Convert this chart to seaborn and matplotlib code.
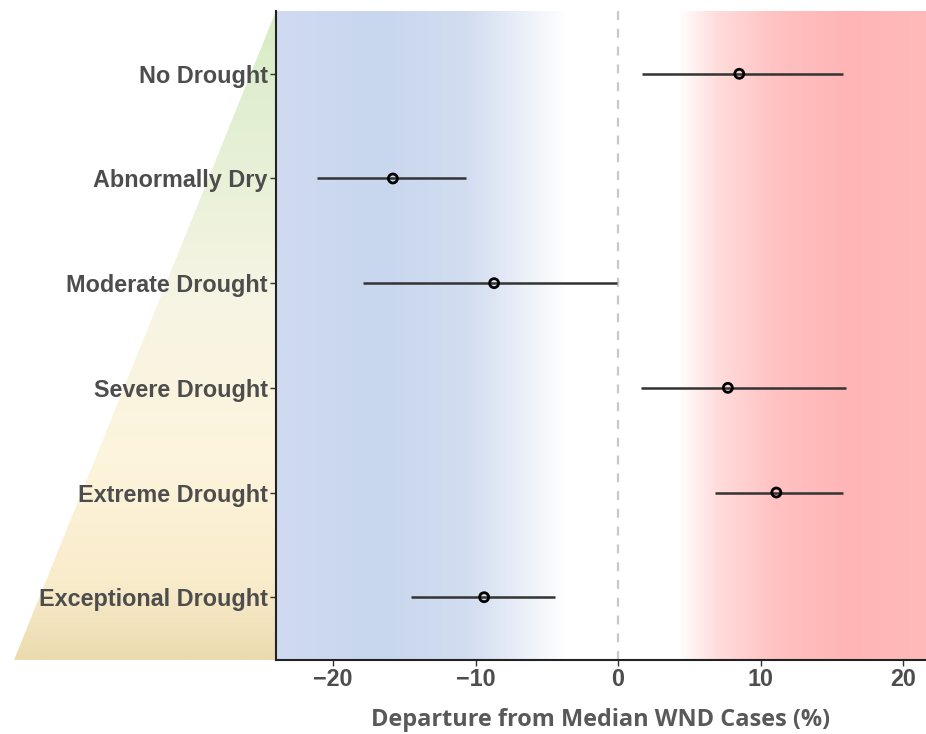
import os
import numpy as np
import pandas as pd
import matplotlib
matplotlib.use("Agg")
import matplotlib.pyplot as plt
import matplotlib.font_manager as fm
import seaborn as sns
from matplotlib.colors import to_rgb
from matplotlib.patches import Polygon

categories = ["No Drought", "Abnormally Dry", "Moderate Drought",
              "Severe Drought", "Extreme Drought", "Exceptional Drought"]
estimate = [8.5, -15.8, -8.7, 7.7, 11.1, -9.4]
ci_low = [1.7, -21.1, -17.9, 1.6, 6.8, -14.5]
ci_high = [15.8, -10.7, -0.1, 16.0, 15.8, -4.4]
xticks = [-20, -10, 0, 10, 20]

df = pd.DataFrame({"category": categories, "estimate": estimate,
                   "low": ci_low, "high": ci_high})
df["pos"] = np.arange(len(categories))

sns.set_theme(style="white")
plt.rcParams["font.family"] = ["Liberation Sans", "DejaVu Sans"]

paths = [p for p in fm.findSystemFonts() if os.path.basename(p) == "LiberationSans-Bold.ttf"]
if paths:
    tick_fp = fm.FontProperties(fname=paths[0], size=16.8)
else:
    tick_fp = fm.FontProperties(family="DejaVu Sans", weight="bold", size=15.5)

W, H = 926, 734
fig = plt.figure(figsize=(W / 100, H / 100), dpi=100)

# background triangle on figure
bg = fig.add_axes([0, 0, 1, 1], zorder=-1)
bg.set_xlim(0, W)
bg.set_ylim(H, 0)
bg.axis("off")
tri_top, tri_bot, tri_left, tri_right = 11, 660, 14, 276
ys = np.linspace(0, 1, 300)
stops_y = [0.0, 0.12, 0.45, 0.7, 0.88, 1.0]
stops_c = [to_rgb(c) for c in ["#d8ecc2", "#dfeed0", "#f7f5e4", "#fdf4dc", "#f9eccb", "#ebdbaf"]]
grad = np.zeros((300, 1, 3))
for k in range(3):
    grad[:, 0, k] = np.interp(ys, stops_y, [c[k] for c in stops_c])
im = bg.imshow(grad, extent=[tri_left, tri_right, tri_bot, tri_top], aspect="auto", origin="upper")
poly = Polygon([(tri_right, tri_top), (tri_left, tri_bot), (tri_right, tri_bot)],
               closed=True, transform=bg.transData, facecolor="none", edgecolor="none")
bg.add_patch(poly)
im.set_clip_path(poly)

ax = fig.add_axes([276 / W, (H - 660) / H, (926 - 276) / W, (660 - 11) / H])
ax.patch.set_alpha(0)
xmin, xmax = -24.0, 21.6
ymin, ymax = -0.6, 5.6

# horizontal gradient background
xs = np.linspace(xmin, xmax, 800)
gx = [-24.0, -17.0, -10.5, -3.6, 4.2, 7.0, 11.0, 16.0, 21.6]
gc = [to_rgb(c) for c in ["#d0dbf1", "#c8d6ee", "#d2ddf0", "#ffffff", "#ffffff",
                          "#ffdcdc", "#ffc2c2", "#ffb5b5", "#ffbaba"]]
hg = np.zeros((1, 800, 3))
for k in range(3):
    hg[0, :, k] = np.interp(xs, gx, [c[k] for c in gc])
ax.imshow(hg, extent=[xmin, xmax, ymax, ymin], aspect="auto", zorder=0)

ax.axvline(0, color="#c8c8c8", lw=1.6, ls=(0, (4, 4)), zorder=1)
ax.hlines(df["pos"], df["low"], df["high"], color="#333333", lw=1.8, zorder=2)
sns.scatterplot(data=df, x="estimate", y="pos", ax=ax, marker="o", s=42,
                facecolor="none", edgecolor="black", linewidth=2, zorder=3)

ax.set_xlim(xmin, xmax)
ax.set_ylim(ymax, ymin)
ax.set_yticks(df["pos"])
ax.set_yticklabels(categories)
ax.set_xticks(xticks)
ax.set_xticklabels([f"\u2212{abs(t)}" if t < 0 else str(t) for t in xticks])
for lab in ax.get_yticklabels() + ax.get_xticklabels():
    lab.set_fontproperties(tick_fp)
    lab.set_color("#4d4d4d")
ax.tick_params(axis="both", which="both", length=4, width=1, color="#333333",
               direction="out", pad=2, left=True, bottom=True)
ax.set_ylabel("")
ax.set_xlabel("Departure from Median WND Cases (%)", fontsize=16.9, fontweight="bold",
              color="#595959", family=["Open Sans", "DejaVu Sans"], labelpad=12)
for s in ["top", "right"]:
    ax.spines[s].set_visible(False)
for s in ["left", "bottom"]:
    ax.spines[s].set_color("#222222")
    ax.spines[s].set_linewidth(1.5)

fig.savefig("out.png", dpi=100)
